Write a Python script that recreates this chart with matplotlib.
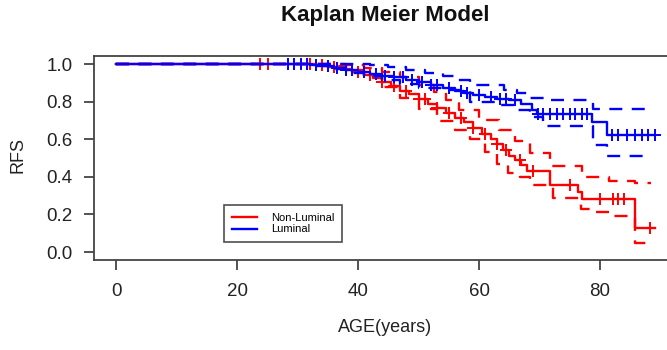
import numpy as np
import matplotlib
matplotlib.use("Agg")
import matplotlib.pyplot as plt
from matplotlib.lines import Line2D

plt.rcParams['font.family'] = ['Liberation Sans', 'DejaVu Sans']

# ---- data ----
red_t = [0, 33, 35, 37, 39, 41, 42.5, 44, 45.5, 47, 48.5, 50, 51.5, 53, 54.5, 56, 57.5,
         59, 60.5, 62, 63, 64, 65, 66, 67, 68, 71.7, 76.4, 77.0, 85.8]
red_s = [1.0, 0.995, 0.985, 0.975, 0.96, 0.945, 0.925, 0.905, 0.885, 0.86, 0.84, 0.815,
         0.79, 0.765, 0.74, 0.715, 0.69, 0.66, 0.63, 0.60, 0.575, 0.545, 0.51, 0.49, 0.465,
         0.43, 0.356, 0.321, 0.28, 0.126]
red_end = 89.1
red_up_t = [0, 38, 41, 44, 47, 50, 52.5, 54.5, 56.7, 60.0, 63.3, 66, 68.4, 71.8, 77.0, 81.5, 85.8]
red_up_s = [1.0, 0.995, 0.98, 0.96, 0.93, 0.89, 0.85, 0.81, 0.755, 0.702, 0.649, 0.59, 0.525,
            0.46, 0.40, 0.38, 0.37]
red_up_end = 88.5
red_lo_t = [0, 36, 38, 41, 44, 47, 50, 53, 56, 58.5, 61, 63, 64.8, 66.7, 68.5, 72.3, 76.9,
            79.1, 81.8, 84.8, 85.8]
red_lo_s = [1.0, 0.99, 0.97, 0.935, 0.88, 0.82, 0.76, 0.70, 0.65, 0.60, 0.53, 0.47, 0.42,
            0.40, 0.355, 0.285, 0.23, 0.213, 0.19, 0.185, 0.05]
red_lo_end = 88.0
red_cens = [23.8, 25.2, 32, 34, 36, 38, 40, 42, 44, 46, 48, 50, 51, 53, 55, 57, 59, 61, 63,
            64.5, 66.7, 69, 75, 80, 82.2, 83.0, 83.9, 88.3]

blue_t = [0, 32, 34, 36, 38, 40, 42, 44, 46, 48, 50, 52, 54, 56, 57.5, 59, 61, 63, 65, 67,
          68.8, 69.5, 78.7, 81.1]
blue_s = [1.0, 0.995, 0.99, 0.98, 0.97, 0.96, 0.95, 0.94, 0.93, 0.915, 0.905, 0.89, 0.875,
          0.86, 0.845, 0.835, 0.825, 0.815, 0.81, 0.79, 0.755, 0.737, 0.69, 0.624]
blue_end = 89.1
blue_up_t = [0, 42, 45, 48, 51, 54, 56, 58.5, 64.1, 66.3, 68.5, 70.7, 78.9]
blue_up_s = [1.0, 0.995, 0.985, 0.97, 0.955, 0.935, 0.915, 0.889, 0.862, 0.845, 0.818, 0.81, 0.76]
blue_up_end = 88.6
blue_lo_t = [0, 32, 35, 38, 41, 44, 47, 50, 54, 58.5, 63.5, 66.2, 68.4, 70.6, 78.9, 81.1]
blue_lo_s = [1.0, 0.99, 0.975, 0.955, 0.935, 0.915, 0.895, 0.875, 0.862, 0.80, 0.782, 0.755,
             0.72, 0.67, 0.569, 0.511]
blue_lo_end = 87.7
blue_cens = [28.5, 29.5, 30.5, 31.5, 33, 35, 36.5, 38, 39, 41, 43, 44.5, 46, 47.5, 49, 50.5,
             52, 53, 55, 57, 58, 60, 62, 63.5, 64.5, 66, 69.8, 70.6, 71.7, 72.9, 73.9, 75.0,
             75.9, 77.0, 77.9, 82, 83, 84.5, 85.8, 86.9, 87.9, 89.1]

labels = ["Non-Luminal", "Luminal"]
colors = ["#FF0000", "#0000FF"]
x_ticks = [0, 20, 40, 60, 80]
y_ticks = [0.0, 0.2, 0.4, 0.6, 0.8, 1.0]

W, H = 667, 350
fig = plt.figure(figsize=(W / 100, H / 100), dpi=100)
ax = fig.add_axes([94 / W, 1 - 260 / H, 1 - 94 / W, (260 - 56) / H])


def step_xy(t, s, end):
    return list(t) + [end], list(s) + [s[-1]]


def surv_at(t, s, x):
    idx = np.searchsorted(np.asarray(t), np.asarray(x), side='right') - 1
    return np.asarray(s)[idx]


series = [
    (red_t, red_s, red_end, red_up_t, red_up_s, red_up_end, red_lo_t, red_lo_s, red_lo_end, red_cens),
    (blue_t, blue_s, blue_end, blue_up_t, blue_up_s, blue_up_end, blue_lo_t, blue_lo_s, blue_lo_end, blue_cens),
]
for (t, s, e, ut, us, ue, lt, ls, le, cens), col in zip(series, colors):
    x, y = step_xy(t, s, e)
    ax.step(x, y, where='post', color=col, lw=1.7)
    for tt, ss, ee in ((ut, us, ue), (lt, ls, le)):
        x, y = step_xy(tt, ss, ee)
        ax.step(x, y, where='post', color=col, lw=1.7, dashes=(5.5, 4))
    ax.plot(cens, surv_at(t, s, cens), ls='none', marker='+', ms=9, mew=1.4, color=col)

ax.set_xlim(-3.64, 91.07)
ax.set_ylim(-0.0426, 1.044)
ax.set_xticks(x_ticks)
ax.set_xticklabels([str(v) for v in x_ticks])
ax.set_yticks(y_ticks)
ax.set_yticklabels([f"{v:.1f}" for v in y_ticks])
for sp in ax.spines.values():
    sp.set_color('#444444')
    sp.set_linewidth(1.3)
ax.spines['right'].set_visible(False)
ax.tick_params(axis='both', colors='#444444', length=7.5, width=1.3, labelsize=13.5,
               labelcolor='#222222')
ax.tick_params(axis='x', pad=9)
ax.tick_params(axis='y', pad=8)

fig.text(385 / W, 1 - 16 / H, "Kaplan Meier Model", ha='center', va='center',
         fontsize=16, fontweight='bold', color='#111111')
fig.text(385 / W, 1 - 327 / H, "AGE(years)", ha='center', va='center', fontsize=13,
         color='#222222')
fig.text(18 / W, 1 - 155 / H, "RFS", ha='center', va='center', rotation=90, fontsize=13,
         color='#222222')

handles = [Line2D([], [], color=c, lw=1.7) for c in colors]
leg = ax.legend(handles, labels, loc='upper left', bbox_to_anchor=(224 / W, 1 - 205 / H),
                bbox_transform=fig.transFigure, fontsize=8, frameon=True, fancybox=False,
                handlelength=2.3, handletextpad=1.2, labelspacing=0.15, borderpad=0.7,
                borderaxespad=0)
leg.get_frame().set_edgecolor('#222222')
leg.get_frame().set_linewidth(1.2)

fig.savefig("out.png", dpi=100)
